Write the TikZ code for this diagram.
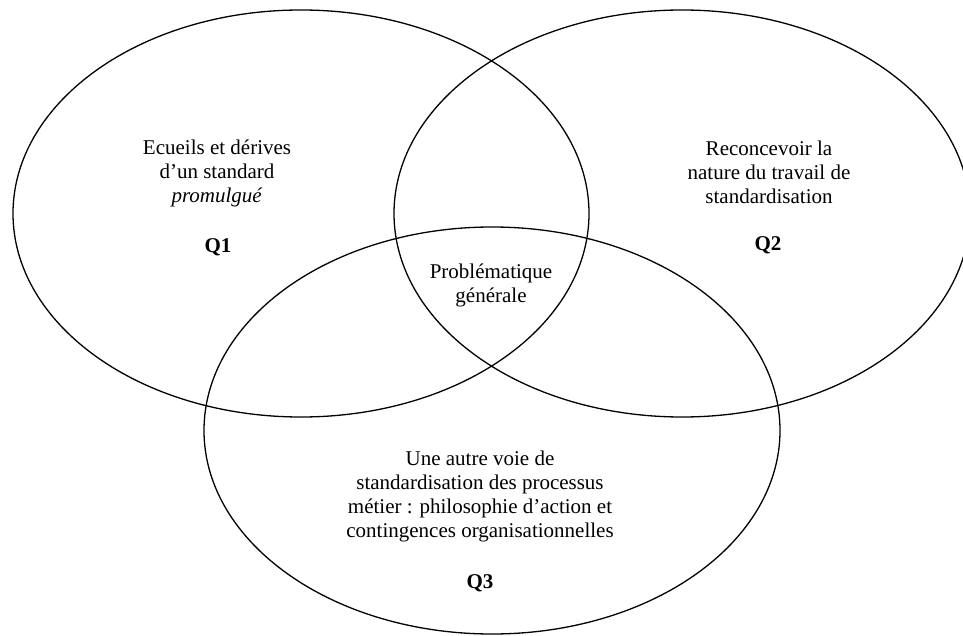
\documentclass[tikz,border=0pt]{standalone}
\usepackage{fontspec}
\setmainfont{Liberation Serif}
\usetikzlibrary{shapes.geometric}
\begin{document}
\begin{tikzpicture}[x=1pt,y=-1pt,
  venn/.style={draw=black, line width=1.3pt, ellipse, inner sep=0pt,
    minimum width=576pt, minimum height=407pt},
  lbl/.style={align=center, font=\fontsize{21}{24}\selectfont, inner sep=0pt},
  qlbl/.style={font=\fontsize{21}{24}\selectfont\bfseries, inner sep=0pt}]
\useasboundingbox (0,0) rectangle (963,636);
\node[venn] (e1) at (301,213.5) {};
\node[venn] (e2) at (682,213.5) {};
\node[venn] (e3) at (492,430.5) {};
\node[lbl] (t1) at (217,173) {Ecueils et dérives\\d’un standard\\\textit{promulgué}};
\node[qlbl] (q1) at (218,247) {Q1};
\node[lbl] (t2) at (769,172) {Reconcevoir la\\nature du travail de\\standardisation};
\node[qlbl] (q2) at (768,245) {Q2};
\node[lbl] (tc) at (491,285) {Problématique\\générale};
\node[lbl] (t3) at (480,496) {Une autre voie de\\standardisation des processus\\métier : philosophie d’action et\\contingences organisationnelles};
\node[qlbl] (q3) at (480,583) {Q3};
\end{tikzpicture}
\end{document}
